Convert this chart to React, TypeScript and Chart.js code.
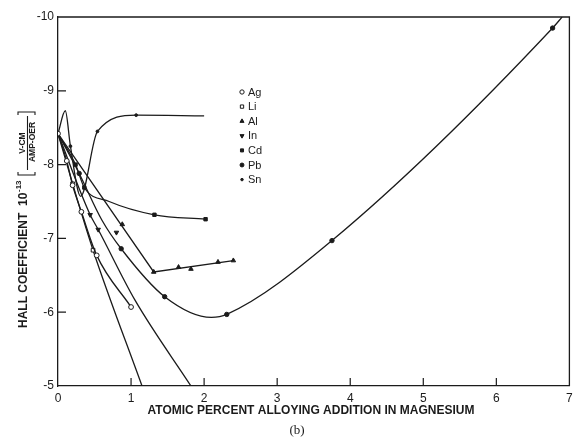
import React, { useEffect, useRef } from "react";
import { Chart, registerables } from "chart.js";
import { drawPoint } from "chart.js/helpers";

Chart.register(...registerables);

// [x, y, flag] — flag 0 marks a curve point that carries no symbol
type P = [number, number, number?];

const xTicks = [0, 1, 2, 3, 4, 5, 6, 7];
const yTicks = [-10, -9, -8, -7, -6, -5];

const agCurve: P[] = [[0, -8.42], [0.12, -8.05], [0.2, -7.72], [0.32, -7.36], [0.53, -6.77], [1.0, -6.07]];
const liCurve: P[] = [[0, -8.42, 0], [0.2, -7.74], [0.48, -6.84], [1.15, -5, 0]];
const alCurve: P[] = [[0, -8.42, 0], [1.31, -6.545], [2.4, -6.7]];
const alPoints: P[] = [[0.88, -7.19], [1.65, -6.61], [1.82, -6.585], [2.19, -6.68]];
const inCurve: P[] = [[0, -8.42, 0], [0.44, -7.32], [0.55, -7.12], [1.05, -6.17, 0], [1.82, -5, 0]];
const inPoints: P[] = [[0.8, -7.08]];
const cdCurve: P[] = [[0, -8.42, 0], [0.24, -8.0], [0.36, -7.69], [0.7, -7.5, 0], [1.32, -7.32], [2.02, -7.26]];
const pbCurve: P[] = [[0, -8.42, 0], [0.29, -7.88], [0.6, -7.25, 0], [0.865, -6.86], [1.46, -6.21], [2.1, -5.93, 0], [2.31, -5.97], [3.75, -6.97], [6.77, -9.85], [6.9, -10, 0]];
const snCurve: P[] = [[0, -8.42, 0], [0.1, -8.73, 0], [0.17, -8.25], [0.31, -7.57, 0], [0.54, -8.45], [1.07, -8.67], [2.0, -8.66, 0]];

const legendNames = ["Ag", "Li", "Al", "In", "Cd", "Pb", "Sn"];

const INK = "#1b1b1b";
const FONT = '"Liberation Sans", Arial, sans-serif';

type Mark = { style: any; fill: string; r: number; rot?: number };
const marks: Record<string, Mark> = {
  Ag: { style: "circle", fill: "#ffffff", r: 2.4 },
  Li: { style: "rect", fill: "#ffffff", r: 2.6 },
  Al: { style: "triangle", fill: INK, r: 2.6 },
  In: { style: "triangle", fill: INK, r: 2.6, rot: 180 },
  Cd: { style: "rect", fill: INK, r: 2.4 },
  Pb: { style: "circle", fill: INK, r: 2.2 },
  Sn: { style: "circle", fill: INK, r: 1.4 },
};

function series(name: string, pts: P[], showLine: boolean, interp: "monotone" | "straight") {
  const m = marks[name];
  return {
    label: name,
    data: pts.map(([x, y, f]) => ({ x, y, m: f !== 0 })),
    showLine,
    borderColor: INK,
    borderWidth: 1.3,
    fill: false,
    cubicInterpolationMode: interp === "monotone" ? "monotone" : "default",
    tension: 0,
    pointStyle: m.style,
    pointRotation: m.rot ?? 0,
    pointRadius: (c: any) => (c.raw && c.raw.m ? m.r : 0),
    pointHoverRadius: 0,
    pointBackgroundColor: m.fill,
    pointBorderColor: INK,
    pointBorderWidth: 1,
  };
}

const framePlugin = {
  id: "frame",
  afterDraw(chart: any) {
    const { ctx, chartArea: a, scales } = chart;
    const xs = scales.x;
    const ys = scales.y;
    ctx.save();
    ctx.strokeStyle = INK;
    ctx.lineWidth = 1.3;
    ctx.beginPath();
    ctx.moveTo(a.left, a.top);
    ctx.lineTo(a.right, a.top);
    ctx.lineTo(a.right, a.bottom);
    ctx.stroke();
    // inward tick marks
    ctx.lineWidth = 1.2;
    ctx.beginPath();
    for (const t of xTicks.slice(1, -1)) {
      const px = xs.getPixelForValue(t);
      ctx.moveTo(px, a.bottom);
      ctx.lineTo(px, a.bottom - 8);
    }
    for (const t of yTicks.slice(1, -1)) {
      const py = ys.getPixelForValue(t);
      ctx.moveTo(a.left, py);
      ctx.lineTo(a.left + 8, py);
    }
    ctx.stroke();

    // legend
    ctx.font = `11px ${FONT}`;
    ctx.textBaseline = "middle";
    ctx.textAlign = "left";
    legendNames.forEach((n, i) => {
      const m = marks[n];
      const y = 92 + i * 14.6;
      ctx.fillStyle = m.fill;
      ctx.strokeStyle = INK;
      ctx.lineWidth = 1;
      drawPoint(ctx, { pointStyle: m.style, rotation: m.rot ?? 0, radius: m.r * 0.9, borderWidth: 1 }, 242, y);
      ctx.fillStyle = INK;
      ctx.fillText(n, 248, y + 0.5);
    });

    // x axis title and caption
    ctx.fillStyle = INK;
    ctx.textAlign = "center";
    ctx.font = `bold 12px ${FONT}`;
    ctx.fillText("ATOMIC PERCENT ALLOYING ADDITION IN MAGNESIUM", 311, 411, 330);
    ctx.font = '13px "Liberation Serif", serif';
    ctx.fillText("(b)", 297, 431);

    // y axis title (rotated, with unit fraction in brackets)
    ctx.translate(24, 328);
    ctx.rotate(-Math.PI / 2);
    ctx.textAlign = "left";
    ctx.font = `bold 12px ${FONT}`;
    ctx.fillText("HALL COEFFICIENT", 0, 0, 117);
    ctx.fillText("10", 122, 0);
    ctx.font = `bold 8px ${FONT}`;
    ctx.fillText("-13", 136, -5);
    ctx.lineWidth = 1.1;
    ctx.strokeStyle = INK;
    ctx.beginPath();
    ctx.moveTo(156, -6);
    ctx.lineTo(153, -6);
    ctx.lineTo(153, 11);
    ctx.lineTo(156, 11);
    ctx.moveTo(213, -6);
    ctx.lineTo(216, -6);
    ctx.lineTo(216, 11);
    ctx.lineTo(213, 11);
    ctx.moveTo(158, 3.5);
    ctx.lineTo(212, 3.5);
    ctx.stroke();
    ctx.textAlign = "center";
    ctx.font = `bold 8.5px ${FONT}`;
    ctx.fillText("V-CM", 185, -1.5);
    ctx.fillText("AMP-OER", 186, 8.5, 44);
    ctx.restore();
  },
};

function zeroPad(s: any) {
  s.paddingLeft = 0;
  s.paddingRight = 0;
  s.paddingTop = 0;
  s.paddingBottom = 0;
}

export default function App() {
  const ref = useRef<HTMLCanvasElement>(null);

  useEffect(() => {
    document.body.style.margin = "0";
    const canvas = ref.current;
    if (!canvas) return;
    const chart = new Chart(canvas, {
      type: "line",
      data: {
        datasets: [
          series("Ag", agCurve, true, "monotone"),
          series("Li", liCurve, true, "monotone"),
          series("Al", alCurve, true, "straight"),
          series("Al", alPoints, false, "straight"),
          series("In", inCurve, true, "monotone"),
          series("In", inPoints, false, "straight"),
          series("Cd", cdCurve, true, "monotone"),
          series("Pb", pbCurve, true, "monotone"),
          series("Sn", snCurve, true, "monotone"),
        ] as any,
      },
      options: {
        animation: false,
        responsive: false,
        devicePixelRatio: 1,
        layout: { padding: { top: 17, right: 2.5, left: 0, bottom: 0 } },
        plugins: { legend: { display: false }, tooltip: { enabled: false } },
        events: [],
        scales: {
          x: {
            type: "linear",
            min: 0,
            max: 7,
            afterFit: (s: any) => {
              s.height = 54;
              zeroPad(s);
            },
            afterBuildTicks: (s: any) => {
              s.ticks = xTicks.map((v) => ({ value: v }));
            },
            grid: { display: false, drawTicks: false, tickLength: 0 },
            border: { display: true, color: INK, width: 1.3 },
            ticks: { color: INK, font: { family: FONT, size: 12 }, padding: 5, maxRotation: 0 },
          },
          y: {
            type: "linear",
            min: -10,
            max: -5,
            reverse: true,
            afterFit: (s: any) => {
              s.width = 58;
              zeroPad(s);
            },
            afterBuildTicks: (s: any) => {
              s.ticks = yTicks.map((v) => ({ value: v }));
            },
            grid: { display: false, drawTicks: false, tickLength: 0 },
            border: { display: true, color: INK, width: 1.3 },
            ticks: { color: INK, font: { family: FONT, size: 12 }, padding: 4 },
          },
        },
      },
      plugins: [framePlugin],
    });
    return () => chart.destroy();
  }, []);

  return (
    <div style={{ position: "fixed", left: 0, top: 0, width: 573, height: 440, background: "#fff" }}>
      <canvas ref={ref} width={573} height={440} style={{ display: "block" }} />
    </div>
  );
}
